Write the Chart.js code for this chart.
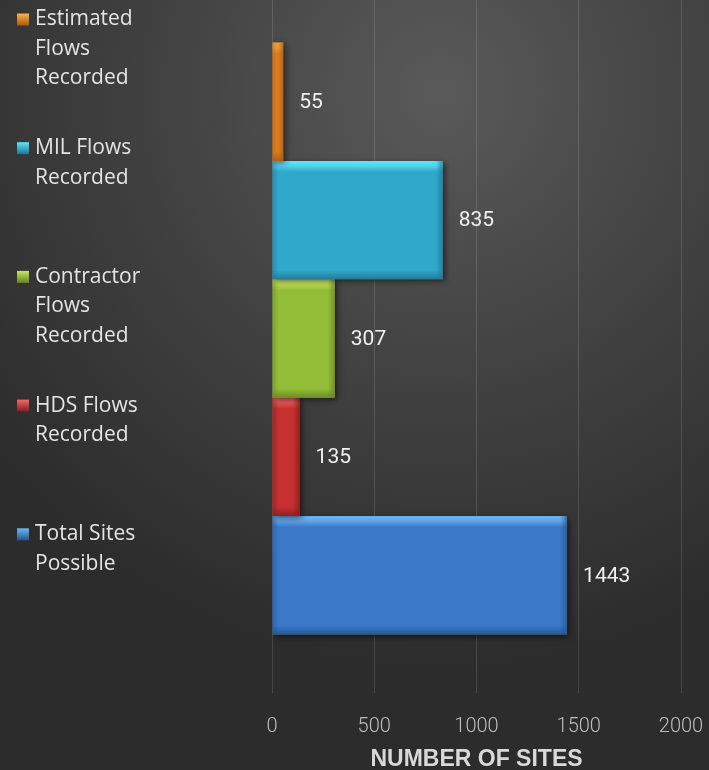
<!DOCTYPE html>
<html>
<head>
<meta charset="utf-8">
<script src="https://cdn.jsdelivr.net/npm/chart.js@4"></script>
<style>
  html, body { margin: 0; padding: 0; }
  body {
    width: 709px; height: 770px; overflow: hidden; position: relative;
    background: radial-gradient(ellipse 80% 75% at 62% 12%, #5a5a5a 0%, #464646 40%, #2c2c2c 100%);
  }
  #chart { position: absolute; left: 0; top: -16px; }
</style>
</head>
<body>
<canvas id="chart" width="709" height="786"></canvas>
<script>
// --- data ---
const seriesLabels = ['Estimated Flows Recorded', 'MIL Flows Recorded', 'Contractor Flows Recorded', 'HDS Flows Recorded', 'Total Sites Possible'];
const legendLines = [['Estimated', 'Flows', 'Recorded'], ['MIL Flows', 'Recorded'], ['Contractor', 'Flows', 'Recorded'], ['HDS Flows', 'Recorded'], ['Total Sites', 'Possible']];
const seriesValues = [55, 835, 307, 135, 1443];
const xTicks = [0, 500, 1000, 1500, 2000];
const axisTitle = 'NUMBER OF SITES';

// base / highlight / shade colours per series
const baseColors = ['#e98420', '#30a8cc', '#94bd38', '#c53030', '#3a78c8'];
const lightColors = ['#ffb050', '#62e4f8', '#c8e660', '#f26a6a', '#70b6f4'];
const darkColors = ['#a85a10', '#1f7590', '#67851f', '#861c1c', '#25558f'];

const ctx = document.getElementById('chart').getContext('2d');

// drop shadow + bevel on every bar
const bevelPlugin = {
    id: 'bevel',
    beforeDatasetDraw(chart) {
        const c = chart.ctx;
        c.save();
        c.shadowColor = 'rgba(0,0,0,0.55)';
        c.shadowBlur = 6;
        c.shadowOffsetX = 2;
        c.shadowOffsetY = 2;
    },
    afterDatasetDraw(chart, args) {
        const c = chart.ctx;
        c.restore();
        const i = args.index;
        const bar = args.meta.data[0];
        const p = bar.getProps(['x', 'y', 'base', 'height'], true);
        const left = Math.min(p.base, p.x), right = Math.max(p.base, p.x);
        const top = p.y - p.height / 2, bottom = p.y + p.height / 2;
        c.save();
        c.beginPath();
        c.rect(left, top, right - left, bottom - top);
        c.clip();
        let g = c.createLinearGradient(0, top, 0, top + 11);
        g.addColorStop(0, lightColors[i]);
        g.addColorStop(0.45, lightColors[i] + 'bb');
        g.addColorStop(1, lightColors[i] + '00');
        c.fillStyle = g;
        c.fillRect(left, top, right - left, 11);
        g = c.createLinearGradient(0, bottom - 9, 0, bottom);
        g.addColorStop(0, darkColors[i] + '00');
        g.addColorStop(1, darkColors[i] + 'dd');
        c.fillStyle = g;
        c.fillRect(left, bottom - 9, right - left, 9);
        g = c.createLinearGradient(right - 7, 0, right, 0);
        g.addColorStop(0, darkColors[i] + '00');
        g.addColorStop(1, darkColors[i] + 'bb');
        c.fillStyle = g;
        c.fillRect(right - 7, top, 7, bottom - top);
        g = c.createLinearGradient(left, 0, left + 6, 0);
        g.addColorStop(0, darkColors[i] + '88');
        g.addColorStop(1, darkColors[i] + '00');
        c.fillStyle = g;
        c.fillRect(left, top, 6, bottom - top);
        c.restore();
    }
};

// value labels right of each bar
const valueLabels = {
    id: 'valueLabels',
    afterDatasetsDraw(chart) {
        const c = chart.ctx;
        c.save();
        c.font = '21px Roboto';
        c.fillStyle = '#f0f0f0';
        c.textAlign = 'left';
        c.textBaseline = 'middle';
        chart.data.datasets.forEach((ds, i) => {
            const bar = chart.getDatasetMeta(i).data[0];
            c.fillText(String(ds.data[0]), bar.x + 16, bar.y + 1);
        });
        c.restore();
    }
};

// wrapped legend on the left
const sideLegend = {
    id: 'sideLegend',
    afterDraw(chart) {
        const c = chart.ctx;
        c.save();
        c.font = '21px "Open Sans"';
        c.textBaseline = 'middle';
        c.textAlign = 'left';
        legendLines.forEach((lines, i) => {
            const y0 = 16 + 19.5 + i * 128.7;
            const g = c.createLinearGradient(17, y0 - 6, 17, y0 + 6);
            g.addColorStop(0, lightColors[i]);
            g.addColorStop(1, darkColors[i]);
            c.fillStyle = g;
            c.fillRect(17, y0 - 6, 12, 12);
            c.fillStyle = '#e4e4e4';
            lines.forEach((t, j) => c.fillText(t, 35, y0 + j * 29.5));
        });
        c.restore();
    }
};

new Chart(ctx, {
    type: 'bar',
    data: {
        labels: [''],
        datasets: seriesLabels.map((label, i) => ({
            label: label,
            data: [seriesValues[i]],
            backgroundColor: baseColors[i],
            borderWidth: 0
        }))
    },
    options: {
        indexAxis: 'y',
        responsive: false,
        animation: false,
        devicePixelRatio: 1,
        categoryPercentage: 0.835,
        barPercentage: 1.0,
        layout: { padding: { left: 272, right: 0, top: 0, bottom: 0 } },
        plugins: { legend: { display: false }, tooltip: { enabled: false } },
        scales: {
            y: { display: false },
            x: {
                min: xTicks[0],
                max: xTicks[xTicks.length - 1],
                afterBuildTicks: axis => { axis.ticks = xTicks.map(v => ({ value: v })); },
                afterFit: axis => { axis.height = 77; axis.paddingRight = 28; },
                grid: { color: 'rgba(255,255,255,0.13)', lineWidth: 1, drawTicks: false },
                border: { display: false },
                ticks: {
                    color: '#bdbdbd', font: { family: 'Roboto', size: 20, weight: 300 }, padding: 22, maxRotation: 0,
                    callback: v => String(v)
                },
                title: {
                    display: true,
                    text: axisTitle,
                    color: '#d9d9d9',
                    font: { family: '"Liberation Sans", Arial', size: 23, weight: 'bold' },
                    padding: { top: 0, bottom: -3 }
                }
            }
        }
    },
    plugins: [bevelPlugin, valueLabels, sideLegend]
});
</script>
</body>
</html>
